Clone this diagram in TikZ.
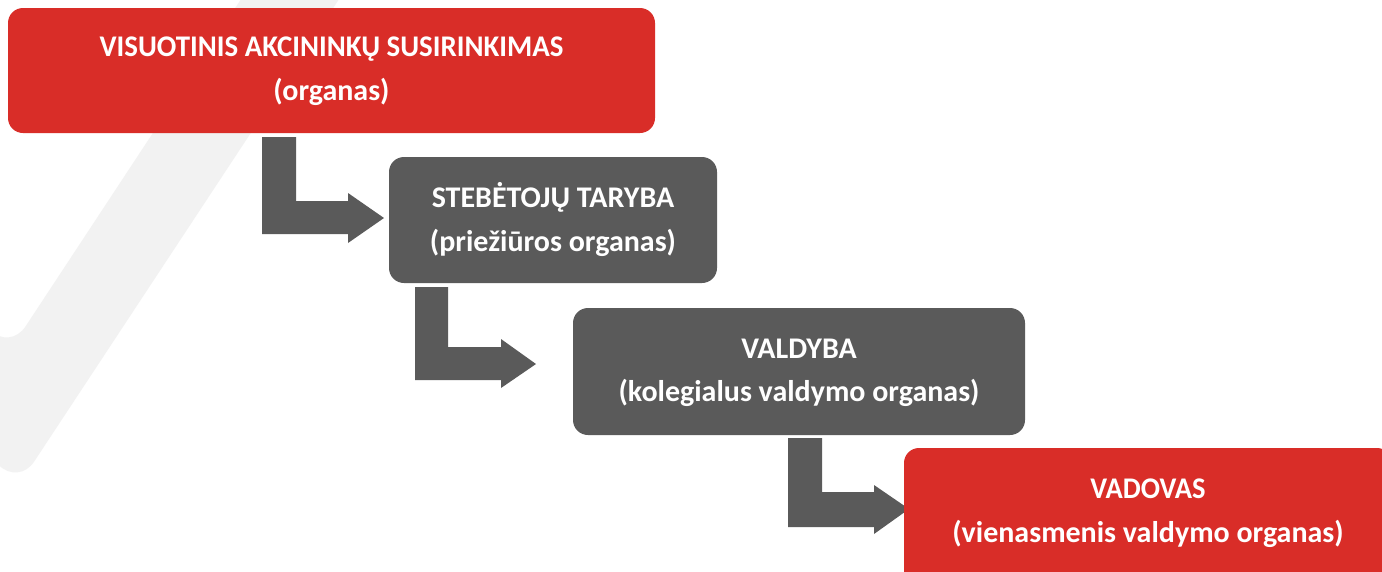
\documentclass[tikz,border=0pt]{standalone}
\usepackage{fontspec}
\setmainfont{Carlito}
\definecolor{boxred}{HTML}{D92D28}
\definecolor{boxgray}{HTML}{5A5A5A}
\definecolor{checkgray}{HTML}{F2F2F2}
\tikzset{
  orgbox/.style={rounded corners=15pt, inner sep=0pt, outer sep=0pt, draw=none},
  redbox/.style={orgbox, fill=boxred},
  graybox/.style={orgbox, fill=boxgray},
  lbl/.style={text=white, inner sep=0pt, anchor=base, font=\fontsize{30}{36}\selectfont\bfseries},
  bentarrow/.style={fill=boxgray, draw=none},
}
\begin{document}
\begin{tikzpicture}[x=1pt,y=-1pt]
\useasboundingbox (0,0) rectangle (1382,571);
\fill[white] (0,0) rectangle (1382,571);
\begin{scope}
  \clip (0,0) rectangle (1382,571);
  % background check mark
  \fill[checkgray, rounded corners=28pt]
    (280,-60) -- (378,-60) -- (18.7,485) -- (-100,366) -- (-100,240) -- (10,350) -- cycle;
  % bent arrows
  \fill[bentarrow] (262,137) -- (296,137) -- (296,201) -- (348,201) -- (348,193)
    -- (384,218) -- (348,243) -- (348,234) -- (262,234) -- cycle;
  \fill[bentarrow] (415,287) -- (448,287) -- (448,347) -- (501,347) -- (501,339)
    -- (536,364) -- (501,388) -- (501,380) -- (415,380) -- cycle;
  \fill[bentarrow] (788,438) -- (822,438) -- (822,492) -- (874,492) -- (874,485)
    -- (909,509) -- (874,534) -- (874,527) -- (788,527) -- cycle;
  % boxes
  \node[redbox, minimum width=647pt, minimum height=125pt] (b1) at (331.5,70.5) {};
  \node[graybox, minimum width=328pt, minimum height=126pt] (b2) at (553,220) {};
  \node[graybox, minimum width=452pt, minimum height=127pt] (b3) at (799,371.5) {};
  \node[redbox, minimum width=488pt, minimum height=150pt] (b4) at (1148,523) {};
  % labels
  \node[lbl] (t1a) at (331.5,56.7) {\scalebox{0.963}[1]{VISUOTINIS AKCININKŲ SUSIRINKIMAS}};
  \node[lbl] (t1b) at (331.5,100.7) {(organas)};
  \node[lbl] (t2a) at (553,207.3) {STEBĖTOJŲ TARYBA};
  \node[lbl] (t2b) at (553,251.5) {(priežiūros organas)};
  \node[lbl] (t3a) at (799,358.3) {VALDYBA};
  \node[lbl] (t3b) at (799,401.5) {(kolegialus valdymo organas)};
  \node[lbl] (t4a) at (1148,498) {\scalebox{0.95}[1]{VADOVAS}};
  \node[lbl] (t4b) at (1148,542) {(vienasmenis valdymo organas)};
\end{scope}
\end{tikzpicture}
\end{document}
